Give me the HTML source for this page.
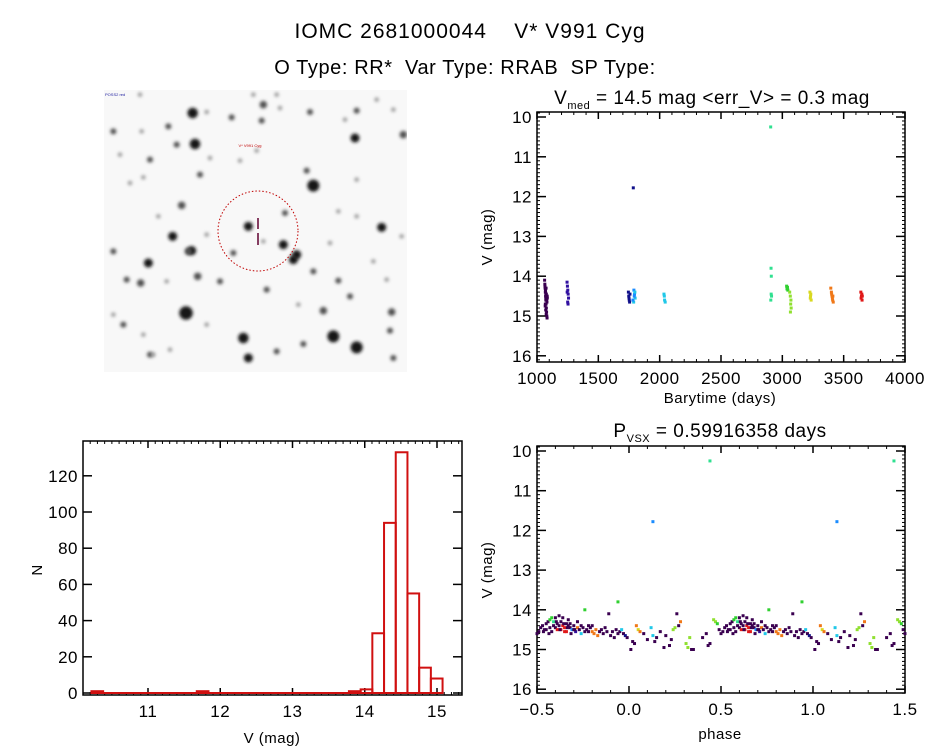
<!DOCTYPE html>
<html><head><meta charset="utf-8"><style>
body{margin:0;background:#fff;}
svg{display:block;font-family:"Liberation Sans",sans-serif;}
</style></head><body>
<svg id="root" width="944" height="747" viewBox="0 0 944 747">
<defs>
<filter id="blur" x="-1" y="-1" width="3" height="3"><feGaussianBlur stdDeviation="1.6"/></filter>
<clipPath id="imgclip"><rect x="104" y="90" width="303" height="282"/></clipPath>
</defs>
<text x="470" y="38" text-anchor="middle" font-size="21" letter-spacing="1" xml:space="preserve">IOMC 2681000044    V* V991 Cyg</text>
<text x="465" y="74" text-anchor="middle" font-size="20" letter-spacing="0.6" xml:space="preserve">O Type: RR*  Var Type: RRAB  SP Type:</text>
<g id="sky" clip-path="url(#imgclip)">
<rect x="104" y="90" width="303" height="282" fill="#f8f8f8"/>
</g>
<g id="tr"></g>
<g id="br"></g>
<g id="hist"></g>
</svg>
<script>
// ---------------- chart data ----------------
const palette = ['#3a0050','#3010a0','#10108a','#1a8cff','#20c8e8','#30e090','#30d030','#90e030','#d8d820','#f07818','#e01818'];
const timeDays = [1062,1064,1066,1068,1070,1072,1074,1076,1078,1080,1082,1084,1065,1069,1073,1077,1081,1067,1071,1075,1079,1083,1070,1074,1068,1072,1076,
1245,1248,1251,1254,1257,1250,1253,1246,
1745,1748,1752,1755,1758,1750,
1785,1790,1795,1800,1788,1793,1798,1782,
2035,2040,2045,2038,
2905,2908,2910,2912,2906,2909,
3035,3040,3045,3042,3038,3060,3065,3070,3068,3072,3066,
3225,3230,3235,3228,3232,
3395,3400,3405,3410,3415,3402,3408,3412,
3640,3645,3650,3648,3642,3652];
const timeMag = [14.1,14.2,14.3,14.4,14.5,14.6,14.7,14.8,14.9,15.0,15.05,14.55,14.25,14.35,14.45,14.55,14.65,14.75,14.85,14.95,14.6,14.5,14.4,14.3,14.7,14.55,14.45,
14.15,14.25,14.35,14.45,14.55,14.65,14.7,14.4,
14.4,14.5,14.6,14.65,14.45,14.55,
11.78,14.35,14.45,14.55,14.65,14.5,14.4,14.6,
14.45,14.6,14.65,14.5,
10.25,13.8,14.0,14.5,14.6,14.45,
14.25,14.3,14.35,14.28,14.32,14.4,14.5,14.6,14.7,14.8,14.9,
14.4,14.5,14.6,14.55,14.45,
14.3,14.4,14.5,14.6,14.65,14.45,14.55,14.5,
14.4,14.5,14.6,14.45,14.55,14.5];
const timeCol = [0,0,0,0,0,0,0,0,0,0,0,0,0,0,0,0,0,0,0,0,0,0,0,0,0,0,0,
1,1,1,1,1,1,1,1,
2,2,2,2,2,2,
2,3,3,4,4,3,4,3,
4,4,4,4,
5,5,5,5,5,5,
6,6,6,6,6,7,7,7,7,7,7,
8,8,8,8,8,
9,9,9,9,9,9,9,9,
10,10,10,10,10,10];
const phaseVals = [0.44,0.13,0.94,0.76,
0.46,0.47,0.48,0.49,0.50,0.51,0.52,0.53,0.54,0.55,0.56,0.57,0.58,0.59,0.60,0.60,0.61,0.62,0.62,0.63,0.64,0.65,0.66,0.66,0.67,0.68,0.69,0.70,0.71,0.72,0.73,0.74,0.75,0.77,0.78,0.79,0.80,0.81,0.82,0.83,0.84,0.85,0.86,0.87,0.88,0.89,0.90,0.91,0.92,0.93,0.94,0.95,0.96,0.97,0.98,0.99,
0.01,0.02,0.03,0.04,0.05,0.06,0.08,0.10,0.12,0.13,0.14,0.15,0.17,0.19,0.20,0.22,0.23,0.24,0.25,0.26,0.27,0.28,0.31,0.32,0.33,0.34,0.35,0.40,0.42,0.43,0.44,
0.55,0.57,0.58,0.59,0.61,0.63,0.64,0.65,0.67,0.68,0.70,0.72,0.74,0.76,0.78,0.80,0.535,0.565,0.605,0.625,0.645,0.665,0.685,0.705];
const phaseMag = [10.25,11.78,13.8,14.0,
14.25,14.3,14.35,14.5,14.6,14.55,14.45,14.4,14.5,14.35,14.3,14.25,14.2,14.3,14.45,14.2,14.35,14.4,14.15,14.5,14.4,14.45,14.35,14.55,14.25,14.45,14.5,14.4,14.55,14.45,14.5,14.6,14.45,14.5,14.55,14.45,14.55,14.6,14.5,14.65,14.55,14.5,14.6,14.45,14.55,14.1,14.65,14.55,14.7,14.5,14.6,14.55,14.5,14.6,14.65,14.7,
15.0,14.8,14.85,14.4,14.5,14.55,14.6,14.75,14.45,14.65,14.8,14.7,14.55,14.95,14.65,14.9,14.75,14.5,14.45,14.1,14.4,14.3,14.85,14.95,14.7,15.0,15.0,14.7,14.6,14.9,14.85,
14.5,14.45,14.55,14.4,14.5,14.3,14.2,14.55,14.4,14.35,14.5,14.3,14.4,14.55,14.4,14.4,14.55,14.6,14.3,14.5,14.35,14.45,14.6,14.5];
const phaseCol = [5,3,6,6,
7,7,6,0,0,0,0,0,0,0,0,6,6,5,0,0,0,0,0,10,10,10,0,10,0,0,3,0,1,9,0,4,0,0,0,0,9,9,9,9,0,0,0,0,0,0,0,0,0,0,0,0,4,0,2,0,
0,0,0,9,8,9,0,0,4,4,0,0,0,0,0,0,0,7,7,0,0,9,7,7,7,0,0,0,0,0,0,
0,0,0,0,10,0,0,10,0,0,0,0,0,0,0,0,0,0,0,0,0,0,0,0];
const histCounts = [1,0,0,0,0,0,0,0,0,1,0,0,0,0,0,0,0,0,0,0,0,0,1,2,33,94,133,55,14,8];
const histStart = 10.217, histWidth = 0.162;
const magTicks = [10,11,12,13,14,15,16];
const timeTicks = [1000,1500,2000,2500,3000,3500,4000];
const phaseTicks = [-0.5,0.0,0.5,1.0,1.5];
const histXTicks = [11,12,13,14,15];
const histYTicks = [0,20,40,60,80,100,120];
// ---------------------------------------------
const NS='http://www.w3.org/2000/svg';
function mk(tag,attrs,parent){const e=document.createElementNS(NS,tag);for(const k in attrs)e.setAttribute(k,attrs[k]);parent.appendChild(e);return e;}

const stars=[[278,75,7],[285,168,7],[490,50,5],[640,293,8],[765,150,6],[845,418,6],[550,470,6],[445,415,6],[580,515,6],[258,675,9],[700,745,8],[770,778,8],[430,750,7],[445,810,6],[670,668,5],[875,672,5],[245,352,5],[218,445,6],[275,488,6],[145,525,6],[122,585,5],[293,565,5],[205,115,4],[125,130,3],[40,130,4],[770,68,4],[910,140,5],[630,72,4],[485,98,4],[555,375,4],[395,88,4],[320,72,3],[230,170,4],[150,215,4],[300,260,4],[130,268,3],[420,218,3],[620,248,4],[770,275,3],[715,370,3],[770,385,3],[640,550,4],[715,578,4],[750,625,4],[500,605,4],[360,580,4],[80,575,4],[40,490,4],[70,710,4],[530,790,4],[610,768,4],[870,728,4],[830,35,3],[880,65,3],[60,200,3],[330,210,3],[90,285,3],[175,385,3],[320,440,3],[400,495,4],[490,460,3],[690,465,3],[820,520,3],[860,575,3],[595,650,3],[150,800,4],[210,785,3],[130,740,3],[320,710,3],[905,445,3],[470,188,3],[540,60,3],[735,95,3],[590,500,6],[265,490,5],[160,800,3],[530,20,3],[120,20,3],[460,20,3],[880,810,4],[40,680,3],[200,580,3]];
const sky=document.getElementById('sky');
stars.forEach(s=>{const c=mk('circle',{cx:100+s[0]/3,cy:88+s[1]/3,r:s[2]*0.75,fill:s[2]>=6?'#151515':(s[2]>=4?'#505050':'#999'),filter:'url(#blur)'},sky);

});
const circ=mk('circle',{cx:258,cy:231,r:40,fill:'none',stroke:'#c00000','stroke-width':1,'stroke-dasharray':'1.5 2'},sky);


const m1=mk('line',{x1:258,y1:218,x2:258,y2:229,stroke:'#600030','stroke-width':1.5},sky);


const m2=mk('line',{x1:258,y1:233,x2:258,y2:245,stroke:'#600030','stroke-width':1.5},sky);


const lbl=mk('text',{x:250,y:147,'font-size':4,fill:'#c00000','text-anchor':'middle'},sky);lbl.textContent='V* V991 Cyg';


const lb2=mk('text',{x:105,y:96,'font-size':4,fill:'#2020a0'},sky);lb2.textContent='POSS2 red';



function axes(g,box,xs,ys,xt,yt,xfmt,yfmt,xminor,yminor){
  const [L,T,R,B]=box;
  const f=mk('rect',{x:L,y:T,width:R-L,height:B-T,fill:'none',stroke:'#000','stroke-width':1.5},g);
  
  
  xminor.forEach(v=>{const x=xs(v);mk('line',{x1:x,y1:B,x2:x,y2:B-3,stroke:'#000'},g);mk('line',{x1:x,y1:T,x2:x,y2:T+3,stroke:'#000'},g);});
  yminor.forEach(v=>{const y=ys(v);mk('line',{x1:L,y1:y,x2:L+3,y2:y,stroke:'#000'},g);mk('line',{x1:R,y1:y,x2:R-3,y2:y,stroke:'#000'},g);});
  xt.forEach(v=>{const x=xs(v);mk('line',{x1:x,y1:B,x2:x,y2:B-7,stroke:'#000','stroke-width':1.5},g);mk('line',{x1:x,y1:T,x2:x,y2:T+7,stroke:'#000','stroke-width':1.5},g);
    const t=mk('text',{x:x,y:B+22,'text-anchor':'middle','font-size':17,'letter-spacing':0.5},g);t.textContent=xfmt(v);
    
    });
  yt.forEach(v=>{const y=ys(v);mk('line',{x1:L,y1:y,x2:L+9,y2:y,stroke:'#000','stroke-width':1.5},g);mk('line',{x1:R,y1:y,x2:R-9,y2:y,stroke:'#000','stroke-width':1.5},g);
    const t=mk('text',{x:L-5,y:y+6,'text-anchor':'end','font-size':17,'letter-spacing':0.5},g);t.textContent=yfmt(v);
    
    });
}
function range(a,b,s){const r=[];for(let v=a;v<=b+1e-9;v+=s)r.push(+v.toFixed(4));return r;}
function txt(g,x,y,s,size,name,rot){const t=mk('text',{x:x,y:y,'text-anchor':'middle','font-size':size,'letter-spacing':0.5},g);if(rot)t.setAttribute('transform',`rotate(-90 ${x} ${y})`);t.textContent=s;
  
  return t;}

{const g=document.getElementById('tr');const box=[537,112,905,362];
 const xs=v=>537+(v-1000)/3000*368, ys=v=>117+(v-10)*39.8;
 axes(g,box,xs,ys,timeTicks,magTicks,v=>String(v),v=>String(v),range(1000,4000,100),range(9.9,16.1,0.1));
 timeDays.forEach((t,i)=>{const r=mk('rect',{x:xs(t)-1.5,y:ys(timeMag[i])-1.5,width:3,height:3,fill:palette[timeCol[i]]},g);
  
  });
 const tt=mk('text',{x:712,y:104,'text-anchor':'middle','font-size':19,'letter-spacing':0.5},g);
 tt.innerHTML='V<tspan font-size="11" dy="5">med</tspan><tspan dy="-5"> = 14.5 mag &lt;err_V&gt; = 0.3 mag</tspan>';
 
 
 txt(g,720,403,'Barytime (days)',15,'x-axis-title');
 txt(g,492,237,'V (mag)',15,'y-axis-title',true);}

{const g=document.getElementById('br');const box=[537,446,905,693];
 const xs=v=>537+(v+0.5)/2*368, ys=v=>451+(v-10)*39.7;
 axes(g,box,xs,ys,phaseTicks,magTicks,v=>v.toFixed(1).replace('-','\u2212'),v=>String(v),range(-0.5,1.5,0.1),range(9.9,16.1,0.1));
 phaseVals.forEach((p,i)=>{[p-1,p,p+1].forEach(q=>{if(q<-0.5||q>1.5)return;
  const r=mk('rect',{x:xs(q)-1.5,y:ys(phaseMag[i])-1.5,width:3,height:3,fill:palette[phaseCol[i]]},g);
  
  });});
 const tt=mk('text',{x:720,y:437,'text-anchor':'middle','font-size':19,'letter-spacing':0.5},g);
 tt.innerHTML='P<tspan font-size="11" dy="5">VSX</tspan><tspan dy="-5"> = 0.59916358 days</tspan>';
 
 
 txt(g,720,739,'phase',15,'x-axis-title');
 txt(g,492,570,'V (mag)',15,'y-axis-title',true);}

{const g=document.getElementById('hist');const box=[83,441,462,695];
 const xs=v=>148+(v-11)*72.25, ys=v=>693-v*1.81;
 axes(g,box,xs,ys,histXTicks,histYTicks,v=>String(v),v=>String(v),range(10.2,15.3,0.1),[]);
 const end=histStart+histWidth*histCounts.length;
 const base=mk('line',{x1:xs(histStart),y1:ys(0),x2:xs(end),y2:ys(0),stroke:'#d01010','stroke-width':2},g);
 
 
 histCounts.forEach((c,i)=>{if(!c)return;const x0=xs(histStart+i*histWidth),x1=xs(histStart+(i+1)*histWidth);
  const r=mk('rect',{x:x0,y:ys(c),width:x1-x0,height:ys(0)-ys(c),fill:'none',stroke:'#d01010','stroke-width':2},g);
  
  });
 txt(g,272,743,'V (mag)',15,'x-axis-title');
 txt(g,42,570,'N',15,'y-axis-title',true);}
</script>
</body></html>
